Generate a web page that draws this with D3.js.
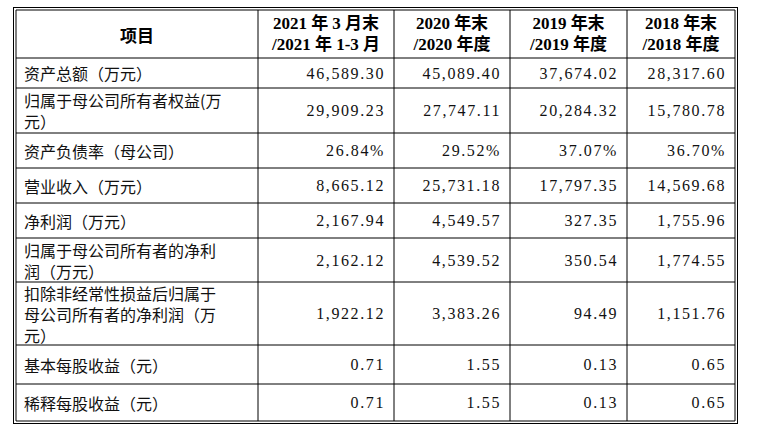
<!DOCTYPE html>
<html><head><meta charset="utf-8">
<script src="https://cdn.jsdelivr.net/npm/d3@7"></script>
<style>body{margin:0;background:#fff}</style>
</head><body><svg id="t" width="759" height="435"></svg>
<script>
const headers = [["项目"], ["2021 年 3 月末", "/2021 年 1-3 月"], ["2020 年末", "/2020 年度"], ["2019 年末", "/2019 年度"], ["2018 年末", "/2018 年度"]];
const items = [
  ["资产总额（万元）"],
  ["归属于母公司所有者权益(万", "元）"],
  ["资产负债率（母公司）"],
  ["营业收入（万元）"],
  ["净利润（万元）"],
  ["归属于母公司所有者的净利", "润（万元）"],
  ["扣除非经常性损益后归属于", "母公司所有者的净利润（万", "元）"],
  ["基本每股收益（元）"],
  ["稀释每股收益（元）"]
];
const v2021 = ["46,589.30", "29,909.23", "26.84%", "8,665.12", "2,167.94", "2,162.12", "1,922.12", "0.71", "0.71"];
const v2020 = ["45,089.40", "27,747.11", "29.52%", "25,731.18", "4,549.57", "4,539.52", "3,383.26", "1.55", "1.55"];
const v2019 = ["37,674.02", "20,284.32", "37.07%", "17,797.35", "327.35", "350.54", "94.49", "0.13", "0.13"];
const v2018 = ["28,317.60", "15,780.78", "36.70%", "14,569.68", "1,755.96", "1,774.55", "1,151.76", "0.65", "0.65"];

const colEdges = [16, 258, 394, 510, 627, 735];
const rowEdges = [10, 58, 88, 133, 168, 203, 238, 282, 345, 384, 421];
const svg = d3.select("#t");
const cjk = "'Noto Sans CJK SC', sans-serif";
const num = "'Liberation Serif', serif";

// grid lines
colEdges.forEach(x => svg.append("line").attr("x1", x).attr("x2", x).attr("y1", rowEdges[0]).attr("y2", rowEdges[rowEdges.length-1]).attr("stroke", "#000").attr("stroke-width", 1));
rowEdges.forEach(y => svg.append("line").attr("x1", colEdges[0]).attr("x2", colEdges[5]).attr("y1", y).attr("y2", y).attr("stroke", "#000").attr("stroke-width", 1));
// double outer border
svg.append("rect").attr("x", 13.5).attr("y", 7.5).attr("width", 724).attr("height", 416).attr("fill", "none").attr("stroke", "#000");

// header
headers.forEach((h, c) => {
  const cx = (colEdges[c] + colEdges[c+1]) / 2, cy = (rowEdges[0] + rowEdges[1]) / 2;
  h.forEach((s, i) => svg.append("text").attr("x", cx).attr("y", cy + (i - (h.length-1)/2) * 21)
    .attr("text-anchor", "middle").attr("dominant-baseline", "central")
    .attr("font-family", c ? num + "," + cjk : cjk).attr("font-weight", "bold").attr("font-size", 17).text(s));
});

const cols = [v2021, v2020, v2019, v2018];
items.forEach((lines, r) => {
  const cy = (rowEdges[r+1] + rowEdges[r+2]) / 2;
  lines.forEach((s, i) => svg.append("text").attr("x", colEdges[0] + 8).attr("y", cy + (i - (lines.length-1)/2) * 21)
    .attr("dominant-baseline", "central").attr("font-family", cjk).attr("font-size", 16).attr("fill", "#111").text(s));
  cols.forEach((vals, c) => svg.append("text").attr("x", colEdges[c+2] - 9).attr("y", cy)
    .attr("text-anchor", "end").attr("dominant-baseline", "central")
    .attr("font-family", num).attr("font-size", 16).attr("letter-spacing", 1.6).attr("fill", "#111").text(vals[r]));
});
</script></body></html>
